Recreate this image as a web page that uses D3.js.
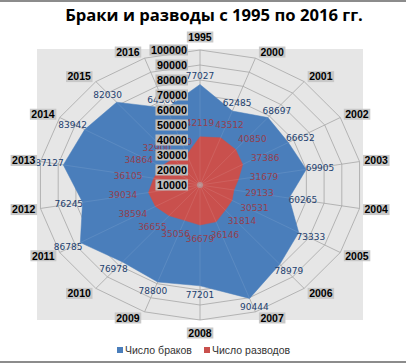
<!DOCTYPE html>
<html><head><meta charset="utf-8">
<script src="https://cdn.jsdelivr.net/npm/d3@7"></script>
<style>
html,body{margin:0;padding:0;background:#fff;}
svg{display:block;}
</style></head>
<body>
<svg id="c" width="406" height="364"></svg>
<script>
const title = "Браки и разводы с 1995 по 2016 гг.";
const years = ["1995","2000","2001","2002","2003","2004","2005","2006","2007","2008","2009","2010","2011","2012","2013","2014","2015","2016"];
const marriages = [77027,62485,68697,66652,69905,60265,73333,78979,90444,77201,78800,76978,86785,76245,87127,83942,82030,64500];
const divorces  = [42119,43512,40850,37386,31679,29133,30531,31814,36146,36679,35056,36655,38594,39034,36105,34864,32900,31500];
const seriesNames = ["Число браков","Число разводов"];
const valueTicks = [10000,20000,30000,40000,50000,60000,70000,80000,90000,100000];

const W=406,H=364, cx=200, cy=185, rx=162, ry=135;
const svg=d3.select("#c");
const colors=["#4a7ebb","#c9504d"];
const labelColors=["#23416f","#93404f"];

// frame
svg.append("rect").attr("x",0).attr("y",0).attr("width",W).attr("height",H).attr("fill","#fff");
svg.append("line").attr("x1",0).attr("x2",W).attr("y1",1).attr("y2",1).attr("stroke","#8c8c8c").attr("stroke-width",2);
svg.append("line").attr("x1",0).attr("x2",W).attr("y1",362).attr("y2",362).attr("stroke","#8c8c8c").attr("stroke-width",2);

// plot area
svg.append("rect").attr("x",37).attr("y",49).attr("width",326).attr("height",271).attr("fill","#e6e6e6");

const r = d3.scaleLinear().domain([10000,100000]).range([0,1]);
const ang = d3.scaleLinear().domain([0,years.length]).range([0,2*Math.PI]);
const px=(i,v)=>cx+r(v)*rx*Math.sin(ang(i));
const py=(i,v)=>cy-r(v)*ry*Math.cos(ang(i));
const idx=d3.range(years.length);
const ring=d3.line().x(d=>d[0]).y(d=>d[1]).curve(d3.curveLinearClosed);

// grid rings
const g=svg.append("g");
valueTicks.slice(1).forEach(t=>{
  g.append("path").attr("d",ring(idx.map(i=>[px(i,t),py(i,t)])))
   .attr("fill","none").attr("stroke","#a6a6a6").attr("stroke-width",0.8);
});
idx.forEach(i=>{
  g.append("line").attr("x1",cx).attr("y1",cy).attr("x2",px(i,100000)).attr("y2",py(i,100000))
   .attr("stroke","#a6a6a6").attr("stroke-width",0.8);
});

// series polygons
[marriages,divorces].forEach((s,k)=>{
  svg.append("path").attr("d",ring(s.map((v,i)=>[px(i,v),py(i,v)])))
    .attr("fill",colors[k]).attr("stroke",colors[k]).attr("stroke-width",0.5);
});
// faint spokes over fills
idx.forEach(i=>{
  svg.append("line").attr("x1",cx).attr("y1",cy).attr("x2",px(i,marriages[i])).attr("y2",py(i,marriages[i]))
   .attr("stroke","#ffffff").attr("stroke-opacity",0.12).attr("stroke-width",0.8);
});
svg.append("circle").attr("cx",cx).attr("cy",cy).attr("r",3).attr("fill","#b0a0a0").attr("opacity",0.7);

// data labels
const offs=[[14,9],[26,14]];
[marriages,divorces].forEach((s,k)=>{
  svg.append("g").selectAll("text").data(s).join("text")
    .attr("x",(v,i)=>px(i,v)+Math.sin(ang(i))*offs[k][0])
    .attr("y",(v,i)=>py(i,v)-Math.cos(ang(i))*offs[k][1])
    .attr("dy","0.35em").attr("text-anchor","middle")
    .attr("font-family","DejaVu Sans").attr("font-size",9)
    .attr("fill",labelColors[k]).text(v=>v);
});

// value axis labels with boxes
const vg=svg.append("g");
valueTicks.forEach(t=>{
  const y=cy-r(t)*ry;
  const tx=vg.append("text").attr("x",187).attr("y",y).attr("dy","0.36em").attr("text-anchor","end")
    .attr("font-family","Liberation Sans").attr("font-weight","bold").attr("font-size",10.8)
    .attr("fill","#000").text(t);
  const b=tx.node().getBBox();
  vg.insert("rect","text").attr("x",b.x-1.5).attr("y",y-5.5).attr("width",b.width+2.5).attr("height",11)
    .attr("fill","#bdbdbd");
});

// category labels
const cg=svg.append("g");
years.forEach((yr,i)=>{
  const a=ang(i), s=Math.sin(a), c=Math.cos(a);
  const x0=px(i,100000), y0=py(i,100000);
  let anchor, x, y;
  if (Math.abs(s)<0.1){anchor="middle"; x=x0; y=y0-c*13;}
  else {anchor = s>0?"start":"end"; x=x0+(s>0?5:-5); y=y0-c*6.5;}
  const tx=cg.append("text").attr("x",x).attr("y",y).attr("dy","0.36em").attr("text-anchor",anchor)
    .attr("font-family","Liberation Sans").attr("font-weight","bold").attr("font-size",10.5)
    .attr("fill","#000").text(yr);
  const b=tx.node().getBBox();
  cg.insert("rect","text").attr("x",b.x-1.5).attr("y",y-5.5).attr("width",b.width+3).attr("height",11)
    .attr("fill","#c8c8c8");
});

// title
const tt=svg.append("text").attr("x",214).attr("y",21).attr("text-anchor","middle")
  .attr("font-family","Open Sans").attr("font-weight","bold").attr("font-size",18)
  .attr("fill","#000").text(title);
const tw=tt.node().getComputedTextLength();
tt.attr("font-size",18*298/tw);

// legend
const lg=svg.append("g");
const lx=[117,204];
seriesNames.forEach((n,k)=>{
  lg.append("rect").attr("x",lx[k]).attr("y",347).attr("width",6).attr("height",6).attr("fill",colors[k]);
  lg.append("text").attr("x",lx[k]+8).attr("y",353.5).attr("font-family","Liberation Sans").attr("font-size",10.5)
    .attr("fill","#333").text(n);
});
</script>
</body></html>
